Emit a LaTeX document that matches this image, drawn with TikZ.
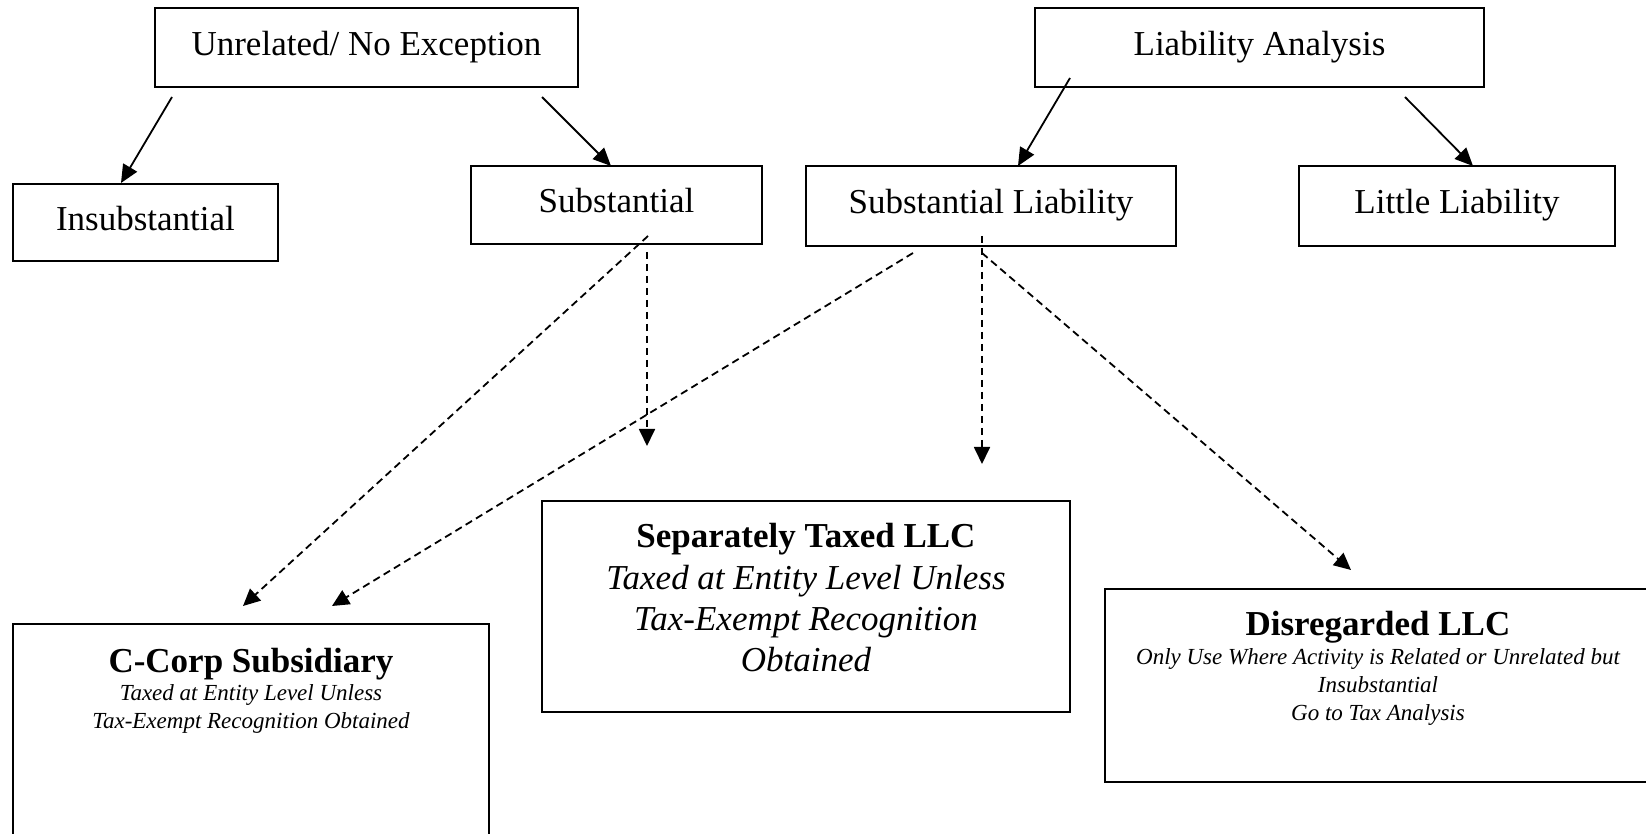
\documentclass[tikz,border=0pt]{standalone}
\usepackage{fontspec}
\setmainfont{Liberation Serif}
\usetikzlibrary{arrows.meta}
\begin{document}
\begin{tikzpicture}[x=0.5pt,y=-0.5pt,
  box/.style={draw, line width=1.1pt, inner sep=0pt, font=\fontsize{17.5}{21}\selectfont, text height=12pt, text depth=4pt},
  bigbox/.style={draw, line width=1.1pt, inner sep=0pt},
  bigbold/.style={anchor=base, inner sep=0pt, font=\fontsize{17.5}{21}\selectfont\bfseries},
  bigit/.style={anchor=base, inner sep=0pt, font=\fontsize{17.5}{21}\selectfont\itshape},
  smallit/.style={anchor=base, inner sep=0pt, font=\fontsize{11.5}{14}\selectfont\itshape},
  arr/.style={line width=0.9pt, -{Triangle[length=9pt,width=8pt]}},
  darr/.style={line width=0.9pt, dash pattern=on 3.7pt off 2.3pt, -{Triangle[length=8.5pt,width=8pt]}}]
\useasboundingbox (0,0) rectangle (1646,834);
\clip (0,0) rectangle (1646,834);
\fill[white] (0,0) rectangle (1646,834);

% top boxes
\node[box, minimum width=211.5pt, minimum height=39.5pt] (unrel) at (366.5,47.5) {Unrelated/ No Exception};
\node[box, minimum width=224.5pt, minimum height=39.5pt] (liab) at (1259.5,47.5) {Liability Analysis};
\node[box, minimum width=132.5pt, minimum height=38.5pt] (insub) at (145.5,222.5) {Insubstantial};
\node[box, minimum width=145.5pt, minimum height=39pt] (subst) at (616.5,205) {Substantial};
\node[box, minimum width=185pt, minimum height=40pt] (sliab) at (991,206) {Substantial Liability};
\node[box, minimum width=158pt, minimum height=40pt] (little) at (1457,206) {Little Liability};

% big boxes
\node[bigbox, minimum width=238pt, minimum height=113pt] (ccorp) at (251,737) {};
\node[bigbox, minimum width=264pt, minimum height=105.5pt] (sep) at (806,606.5) {};
\node[bigbox, minimum width=273.5pt, minimum height=96.5pt] (disr) at (1378.5,685.5) {};

% texts of big boxes
\node[bigbold] (ccorpT) at (251,672) {C-Corp Subsidiary};
\node[smallit] (ccorpA) at (251,700) {Taxed at Entity Level Unless};
\node[smallit] (ccorpB) at (251,728) {Tax-Exempt Recognition Obtained};

\node[bigbold] (sepT) at (806,547) {Separately Taxed LLC};
\node[bigit] (sepA) at (806,589) {Taxed at Entity Level Unless};
\node[bigit] (sepB) at (806,630) {Tax-Exempt Recognition};
\node[bigit] (sepC) at (806,671) {Obtained};

\node[bigbold] (disrT) at (1378,635) {Disregarded LLC};
\node[smallit] (disrA) at (1378,664) {Only Use Where Activity is Related or Unrelated but};
\node[smallit] (disrB) at (1378,692) {Insubstantial};
\node[smallit] (disrC) at (1378,720) {Go to Tax Analysis};

% connector end points
\coordinate (a1s) at (172,97);   \coordinate (a1e) at (121,183);
\coordinate (a2s) at (542,97);   \coordinate (a2e) at (611,166);
\coordinate (a3s) at (1070,78);  \coordinate (a3e) at (1018,166);
\coordinate (a4s) at (1405,97);  \coordinate (a4e) at (1473,166);
\coordinate (d1s) at (648,236);  \coordinate (d1e) at (243,606);
\coordinate (d2s) at (647,252);  \coordinate (d2e) at (647,446);
\coordinate (d3s) at (913,253);  \coordinate (d3e) at (332,606);
\coordinate (d4s) at (982,236);  \coordinate (d4e) at (982,464);
\coordinate (d5s) at (982,253);  \coordinate (d5e) at (1351,570);

\draw[arr] (a1s) -- (a1e);
\draw[arr] (a2s) -- (a2e);
\draw[arr] (a3s) -- (a3e);
\draw[arr] (a4s) -- (a4e);
\draw[darr] (d1s) -- (d1e);
\draw[darr] (d2s) -- (d2e);
\draw[darr] (d3s) -- (d3e);
\draw[darr] (d4s) -- (d4e);
\draw[darr] (d5s) -- (d5e);
\end{tikzpicture}
\end{document}
